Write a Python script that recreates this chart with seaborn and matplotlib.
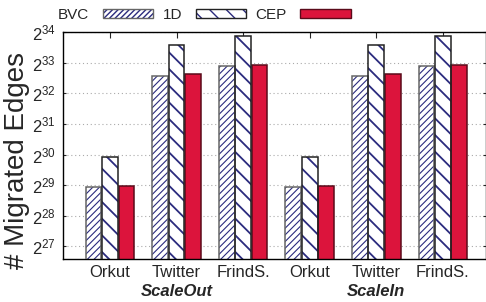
import pandas as pd
import matplotlib
matplotlib.use('Agg')
import matplotlib.pyplot as plt
import seaborn as sns
from matplotlib.patches import Rectangle, Patch
import matplotlib.transforms as mtransforms

# data (values are log2 of migrated edges)
datasets = ['Orkut', 'Twitter', 'FrindS.']
scenarios = ['ScaleOut', 'ScaleIn']
methods = ['BVC', '1D', 'CEP']
bvc_log2 = [28.93, 32.58, 32.90, 28.93, 32.58, 32.90]
d1_log2 = [29.91, 33.58, 33.88, 29.91, 33.58, 33.88]
cep_log2 = [28.97, 32.62, 32.93, 28.97, 32.62, 32.93]
ytick_exps = [27, 28, 29, 30, 31, 32, 33, 34]

groups = [f'{s}-{d}' for s in scenarios for d in datasets]
tick_labels = [d for s in scenarios for d in datasets]

rows = []
for m, vals in zip(methods, [bvc_log2, d1_log2, cep_log2]):
    for g, v in zip(groups, vals):
        rows.append({'group': g, 'method': m, 'log2_edges': v})
df = pd.DataFrame(rows)

sns.set_style('white')
plt.rcParams['font.family'] = ['Liberation Sans', 'DejaVu Sans']
plt.rcParams['hatch.linewidth'] = 1.0

navy = '#2b2b7e'
red = '#dc143c'

fig = plt.figure(figsize=(4.86, 3.02), dpi=100)
ax = fig.add_axes([62.7 / 486, 42.7 / 302, 422.8 / 486, 227.1 / 302])

sns.barplot(data=df, x='group', y='log2_edges', hue='method', order=groups,
            hue_order=methods, palette={'BVC': 'white', '1D': 'white', 'CEP': red},
            width=0.74, gap=0.04, saturation=1, legend=False, ax=ax, zorder=2)

hatches = {'BVC': '/////', '1D': '\\\\', 'CEP': None}
hatch_lw = {'BVC': 0.8, '1D': 1.3}
outlines = {'BVC': '#666666', '1D': '#222222', 'CEP': '#5a0a1a'}
for m, cont in zip(methods, ax.containers):
    for bar in cont:
        if hatches[m]:
            bar.set_hatch(hatches[m])
            if hasattr(bar, 'set_hatch_linewidth'):
                bar.set_hatch_linewidth(hatch_lw[m])
            bar.set_edgecolor(navy)
            bar.set_linewidth(0)
            ax.add_patch(Rectangle(bar.get_xy(), bar.get_width(), bar.get_height(),
                                   fill=False, edgecolor=outlines[m], lw=1.1, zorder=3))
        else:
            bar.set_edgecolor(outlines[m])
            bar.set_linewidth(1.1)

ax.set_ylim(26.58, 34)
ax.set_xlim(-0.71, 5.64)
ax.set_yticks(ytick_exps)
ax.set_yticklabels([r'$\mathregular{2^{%d}}$' % e for e in ytick_exps], fontsize=12)
ax.set_xticks(range(len(groups)))
ax.set_xticklabels(tick_labels, fontsize=12)
ax.tick_params(axis='x', direction='in', top=True, bottom=False, length=4, pad=4)
ax.tick_params(axis='y', direction='in', left=True, right=True, length=2, pad=5)
ax.yaxis.grid(True, linestyle=(0, (1, 2.5)), color='#aaaaaa', lw=0.8)
ax.set_axisbelow(True)
for sp in ax.spines.values():
    sp.set_color('black')
    sp.set_linewidth(1)

ax.set_xlabel('')
ax.set_ylabel('# Migrated Edges', fontsize=20, va='center')
ax.yaxis.set_label_coords(-0.108, 0.435)

trans = mtransforms.blended_transform_factory(ax.transData, ax.transAxes)
for i, s in enumerate(scenarios):
    ax.text(1 + 3 * i, -0.14, s, transform=trans, ha='center', va='center',
            fontsize=12, fontweight='bold', fontstyle='italic')

handles = [
    (Patch(facecolor='white', edgecolor=navy, hatch='//////', lw=0),
     Patch(fill=False, edgecolor=outlines['BVC'], lw=1)),
    (Patch(facecolor='white', edgecolor=navy, hatch='\\\\', lw=0),
     Patch(fill=False, edgecolor=outlines['1D'], lw=1)),
    Patch(facecolor=red, edgecolor=outlines['CEP'], lw=1),
]
fig.legend(handles, methods, loc='center left', bbox_to_anchor=(58 / 486, 1 - 15 / 302),
           ncol=3, frameon=False, markerfirst=False, fontsize=11, handlelength=3.3,
           handleheight=0.5, handletextpad=0.9, columnspacing=0.6,
           borderpad=0, borderaxespad=0)

fig.savefig('out.png', dpi=100)
